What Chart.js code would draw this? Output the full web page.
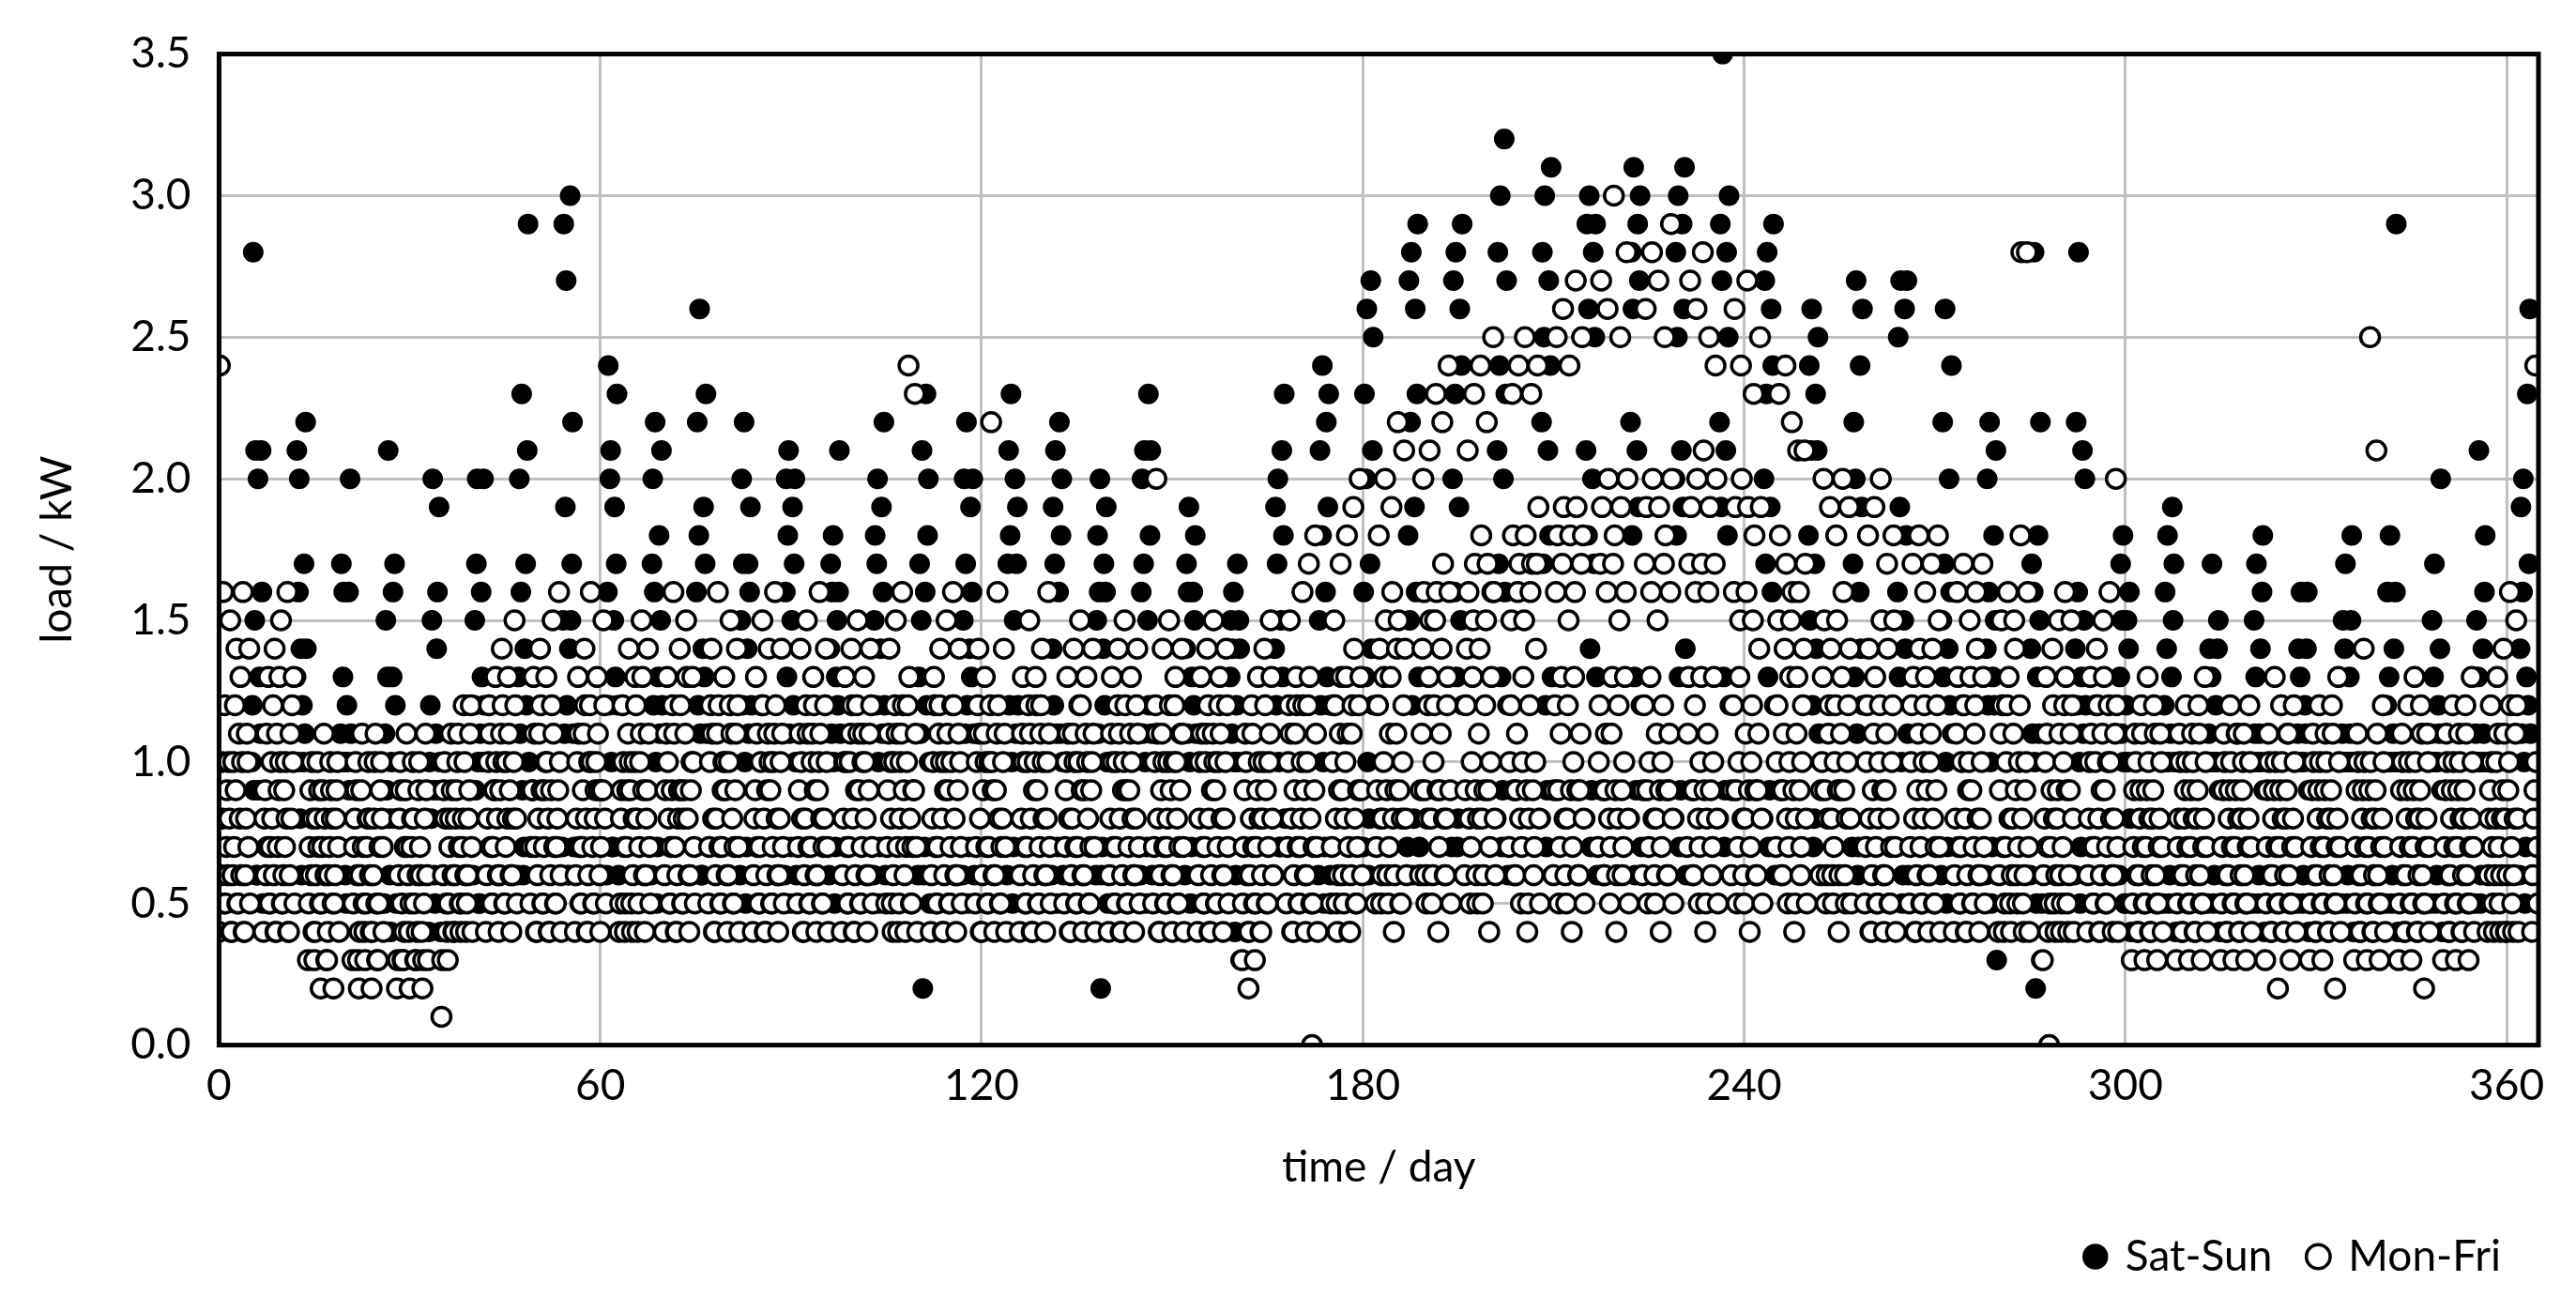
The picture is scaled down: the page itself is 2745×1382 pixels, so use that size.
<!DOCTYPE html>
<html>
<head>
<meta charset="utf-8">
<script src="https://cdn.jsdelivr.net/npm/chart.js@4/dist/chart.umd.min.js"></script>
<style>
  html, body { margin: 0; padding: 0; background: #fff; }
  #wrap { width: 2745px; height: 1382px; }
</style>
</head>
<body>
<div id="wrap"><canvas id="grafico"></canvas></div>
<script>
// Carga: una cadena por día (día 0 = lunes), 8 lecturas cada 3 h.
// Cada carácter = kW * 10 en la escala "0-9A-Z" (A = 1.0 kW, Z = 3.5 kW).
const weeks = [
  "4O6A8G5C 5796A8F4 46A7C9E5 5B8D6AG4 468BA7E5 5ACS9FL6 6K9DBLG5",
  "4896B7D5 57A8C6E4 4B79DAF5 5697A8G4 46B8CAD5 5DLAGK8E 6CAHBME5",
  "35796A84 3468A795 2579B863 3467A985 25689A74 4BHADGA6 5CAG9KB5",
  "3578A963 2469B754 3578A864 2468AB53 3579A874 5BF9DL86 4ADG8HC5",
  "2368A953 3479B764 2578A853 3469A764 2358B963 4AC8FK96 5BEG9JA4",
  "1369A854 3578B964 4689AB75 4578CA64 5689BC74 6CF9HKA5 5BGDAKC6",
  "468ACB75 5799DA86 469BECA5 57A8DB96 468AFC85 6DKBGN96 7EHCLTA5",
  "5799DB74 468BEC95 579ADA84 469CFB75 5789GA64 7FTBJRC6 6EUFHMB7",
  "468ADB75 579BEC84 46ACGA75 589ADB96 4799FC85 6GOCKLA7 7FJDHNC6",
  "4589CA74 579BEA95 468ADC84 57ABFD96 4689EB75 6HKCGMA5 7DIBFLC6",
  "469BDA85 579CGB74 4689EC95 589BFD86 469ADA75 7GMCIQB6 6EJDHNB5",
  "57ACEB84 468BGC75 579ADA96 46ACFB85 579BEC74 6FKCHMA5 7EHBGJC6",
  "4689DB75 57ACFC84 469BEA95 57ABGC86 468AEB75 6GKDILB5 7FJCHKA6",
  "579BEA84 468CFB75 57ABDC96 469AGB85 578CEA74 6EHBGIA5 7DFCGLB6",
  "468ADA75 57ABEC84 469CFB95 57ABDA86 469BEC75 6FICHKA5 7EJBGMC6",
  "579BEA85 46ACFB74 58ABGC96 47ACOD85 5799NB74 6DHBFL26 7GNCIKA5",
  "468ADC75 57BCEA84 469AFB95 57ACGC86 469BEA75 6FKBHMC5 7EJDGKB6",
  "57ACEB84 469BDA75 57ACMA96 469BGC85 578AEB74 6HLCINA5 7FKBHJC6",
  "468BDA75 57ACFB84 469ADC95 57BCEA86 468AGB75 6EJCHLB5 7GMBIKA6",
  "579ADB84 468BEA75 57ACFC96 469BDA85 579AEB74 6FIBGK26 7EHCGJA5",
  "468BDA75 57ACEB84 469AFC95 579BDA86 468CEB75 6GKBHLA5 7FNCILB6",
  "57ACKB84 469BEA75 578AFC96 46ACDA85 579BEB74 6EHBGJA5 7DGCFIB6",
  "468ADB75 57ABEC84 469BFA95 57ACDB86 468AEC75 5DFBEGA4 6CHAFE35",
  "3579BA64 2468CB75 3579DA84 468AEC95 57ABFD86 6EJCHKA7 7FLDIN85",
  "57ACFB84 469BDC75 578AGC96 46ACHD85 0579IB74 6FLCIOA5 7GMDJNC6",
  "57ACFC85 469BHD96 58ADIB74 46BCJE85 579CKD96 7GNDKQA6 8HRELPC7",
  "579CIE85 68ADKF96 57BDJG84 69BEMF95 58ACLE86 7IRFMSC6 8JQGNTD7",
  "69BEKG96 58CDLF85 6ACFNG94 79BEMH86 68CDOG95 7KRGNSD7 8JQFOTC6",
  "69CELG85 7ADFNH96 58BEOI85 69CFMH94 7ADGPG86 8LSHOUD7 9KWGNRC6",
  "7ACFNI96 69BGOH85 7ADFPI94 58CGNH96 7AEHOJ85 8MSHPUC7 9LRIOVD6",
  "69CGPI95 7BDHQJ86 58CFOI94 7ADGRJ96 69BHPI85 8LTIQUE7 9KSHPTD6",
  "7ACHRJ96 69BGQK85 7BDHUI94 68CFPJ96 7ADGSK85 8MSIQVD6 9LTJRUC7",
  "69CHQJ95 7ADGSK86 58BFRJ94 7ACHPI96 69BGTK85 8KSIPUD7 9LTJQVE6",
  "7BDHRJ96 69CGQK85 7ADHSL94 58BGPJ96 7ADHOK85 8MTJRZD7 9LSIPUC6",
  "69CGQJ95 7ADFOK86 58BGRJ94 7ACFNI96 69BEPJ85 8KRHNSD7 9JQGOTC6",
  "7ACFNI96 69BEOH85 7ADFMG94 58BDLG96 7ACELH85 8IOFLQC7 8HNELPB6",
  "69ADKF95 68BCJE86 57ACIF94 69BDKG96 58ACJE85 7HMDKRB6 7GOEJQC5",
  "57ACIE84 469BJD75 58ACKF96 469BHE85 57ACIF74 7GPDJRA5 6FQEIRB6",
  "57ACHD84 469BIE75 58ACGD96 46ABHE85 579CIF74 6FMDHQA5 7EKCGOB6",
  "468BGD75 57ACHC84 469AFD95 57BCGE86 468AHD75 6EKCGMA5 7DICFL36",
  "469BFC74 57ACGD85 468BFE96 57ACIS85 469ASG74 6EHBGSA2 5DIBFM35",
  "368ADB74 0579EC85 4689FB64 57ACGD95 469BFC84 6EMCGSA5 7DLBFKC6",
  "468ADB75 57ACEC84 469BFD95 57ACGA86 468BKC74 6DHBFIA5 5CFAEG84",
  "3579BA64 4689CB75 3579DA84 4689CB65 3578BA74 5CGAEIA5 6BDJFHA4",
  "3578BA64 4689CA75 3579BA84 4689CB65 3578DA74 5BEADHA5 6ACAEF94",
  "3579BA64 4689CA75 3579BB84 4689AB65 3578CA74 5AFBDHA5 6BEAGI94",
  "3579BA64 4689DA75 2579CA84 4689BB65 3578CA74 5BEADGA5 6ACBEG94",
  "3579BA64 4689CA75 3579BA84 4689CB65 2578DA74 5BFAEHA5 6ADBFIA4",
  "3579BA64 4689EA75 3579PA84 4689LB65 3578CA74 5CGADIA5 6BEAGTA4",
  "3579BA64 4689CA75 3579DA84 4689CB65 2578BA74 5BFADHA5 6ACBEK94",
  "3579BA64 4689CA75 3579BA84 4689CB65 3578DA74 5BFADLA5 6AEBGIA4",
  "4689CA75 468ADB75 4689EB84 469AGC75 468BFC84 6EJBGKA5 7DNCHQB6",
  "4689OA75"
];
const seriesLabels = ["Sat-Sun", "Mon-Fri"];
const xTicks = [0, 60, 120, 180, 240, 300, 360];
const yTicks = [0, 0.5, 1.0, 1.5, 2.0, 2.5, 3.0, 3.5];

const CH = "0123456789ABCDEFGHIJKLMNOPQRSTUVWXYZ";
const days = weeks.join(" ").split(" ");
const finde = [], semana = [];
days.forEach((s, d) => {
    const lista = (d % 7 >= 5) ? finde : semana;
    for (let i = 0; i < s.length; i++) {
        lista.push({ x: d + i / s.length, y: CH.indexOf(s[i]) / 10 });
    }
});

const fuente = "Lato, 'Open Sans', sans-serif";

// Borde negro alrededor del área del gráfico
const marco = {
    id: 'marco',
    afterDatasetsDraw(chart) {
        const a = chart.chartArea, c = chart.ctx;
        c.save();
        c.strokeStyle = '#000';
        c.lineWidth = 5;
        c.strokeRect(a.left, a.top, a.right - a.left, a.bottom - a.top);
        c.restore();
    }
};

const config = {
    type: 'scatter',
    data: {
        datasets: [{
            label: seriesLabels[0],
            data: finde,
            backgroundColor: '#000',
            borderColor: '#000',
            borderWidth: 2,
            pointRadius: 10,
            order: 2
        }, {
            label: seriesLabels[1],
            data: semana,
            backgroundColor: '#fff',
            borderColor: '#000',
            borderWidth: 3.5,
            pointRadius: 10,
            order: 1
        }]
    },
    options: {
        responsive: false,
        animation: false,
        layout: { padding: { left: 30, right: 40, top: 55, bottom: 10 } },
        plugins: {
            tooltip: { enabled: false },
            legend: {
                position: 'bottom',
                align: 'end',
                labels: {
                    usePointStyle: true,
                    pointStyle: 'circle',
                    boxWidth: 18,
                    boxHeight: 18,
                    padding: 40,
                    color: '#000',
                    font: { family: fuente, size: 46 },
                    sort: (a, b) => a.datasetIndex - b.datasetIndex
                }
            }
        },
        scales: {
            x: {
                type: 'linear',
                min: 0,
                max: 365,
                afterBuildTicks: ax => { ax.ticks = xTicks.map(v => ({ value: v })); },
                ticks: { color: '#000', font: { family: fuente, size: 46 }, padding: 16 },
                grid: { color: '#c0c0c0', lineWidth: 3, drawTicks: false },
                border: { display: false },
                title: { display: true, text: 'time / day', color: '#000', font: { family: fuente, size: 46 }, padding: { top: 16 } }
            },
            y: {
                min: 0,
                max: 3.5,
                afterBuildTicks: ax => { ax.ticks = yTicks.map(v => ({ value: v })); },
                ticks: { color: '#000', font: { family: fuente, size: 46 }, padding: 30, callback: v => v.toFixed(1) },
                grid: { color: '#c0c0c0', lineWidth: 3, drawTicks: false },
                border: { display: false },
                title: { display: true, text: 'load / kW', color: '#000', font: { family: fuente, size: 46 }, padding: { bottom: 20 } }
            }
        }
    },
    plugins: [marco]
};

const canvas = document.getElementById('grafico');
canvas.width = 2745;
canvas.height = 1382;
new Chart(canvas.getContext('2d'), config);
</script>
</body>
</html>
